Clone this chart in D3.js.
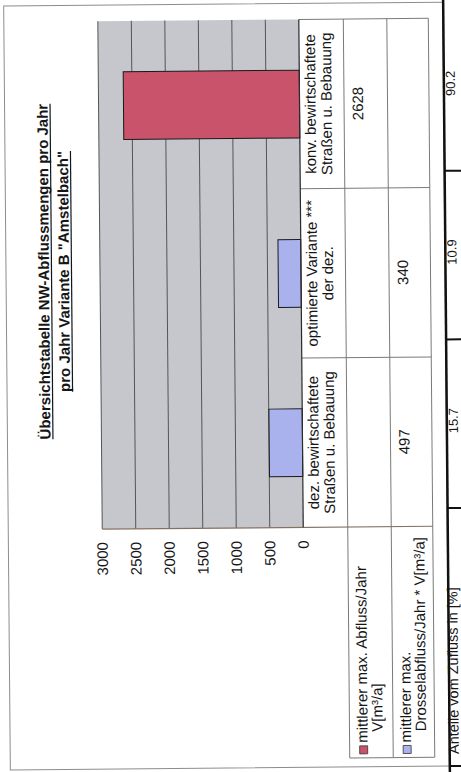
<!DOCTYPE html>
<html>
<head>
<meta charset="utf-8">
<script src="https://cdn.jsdelivr.net/npm/d3@7"></script>
<style>
  html, body { margin: 0; padding: 0; background: #ffffff; }
  svg { display: block; }
  text { font-family: "Liberation Sans", Arial, sans-serif; fill: #161616; }
</style>
</head>
<body>
<script>
// ---- data ----
const categories = ["dez", "opt", "konv"];
const categoryLines = [
  ["dez. bewirtschaftete", "Straßen u. Bebauung"],
  ["optimierte Variante ***", "der dez."],
  ["konv. bewirtschaftete", "Straßen u. Bebauung"]
];
const abflussJahr = [null, null, 2628];     // mittlerer max. Abfluss/Jahr V[m³/a]
const drosselJahr = [497, 340, null];       // mittlerer max. Drosselabfluss/Jahr * V[m³/a]
const valueTicks = [0, 500, 1000, 1500, 2000, 2500, 3000];
const seriesNames = [
  ["mittlerer max. Abfluss/Jahr", "V[m³/a]"],
  ["mittlerer max.", "Drosselabfluss/Jahr * V[m³/a]"]
];
const anteile = ["15.7", "10.9", "90.2"];
const anteileLabel = "Anteile vom Zufluss in [%]";
const titleLines = ["Übersichtstabelle NW-Abflussmengen pro Jahr", "pro Jahr Variante B \"Amstelbach\""];

// ---- layout (drawn in page orientation, then turned onto the sheet) ----
const W = 461, H = 772;
const colors = { abfluss: "#c9536b", drossel: "#aab2ee", plot: "#c6c7cd", grid: "#555555", table: "#7a7a7a" };

const svg = d3.select("body").append("svg").attr("width", W).attr("height", H);
const sheet = svg.append("g").attr("transform", "rotate(-0.5,230,386)");
const g = sheet.append("g").attr("transform", `translate(0,${H}) rotate(-90)`);

const plot = { left: 244, right: 752, top: 101, bottom: 302 };
const rows = [302, 346.5, 390, 431.5];
const legendLeft = 13;

const x = d3.scaleBand().domain(categories).range([plot.left, plot.right]).paddingInner(0).paddingOuter(0);
const y = d3.scaleLinear().domain([0, 3000]).range([plot.bottom, plot.top]);

// outer chart frame
g.append("rect").attr("x", 4).attr("y", 7).attr("width", 764).attr("height", 439)
  .attr("fill", "none").attr("stroke", "#8d8d8d").attr("stroke-width", 1);

// plot background
g.append("rect").attr("x", plot.left).attr("y", plot.top)
  .attr("width", plot.right - plot.left).attr("height", plot.bottom - plot.top)
  .attr("fill", colors.plot);

// gridlines
g.append("g").selectAll("line").data(valueTicks.filter(d => d > 0)).join("line")
  .attr("x1", plot.left).attr("x2", plot.right)
  .attr("y1", d => y(d)).attr("y2", d => y(d))
  .attr("stroke", colors.grid).attr("stroke-width", 1);

// bars
const barW = x.bandwidth() * 0.4;
function drawBars(values, fill) {
  g.append("g").selectAll("rect")
    .data(categories.map((c, i) => ({ c, v: values[i] })).filter(d => d.v != null))
    .join("rect")
    .attr("x", d => x(d.c) + (x.bandwidth() - barW) / 2)
    .attr("width", barW)
    .attr("y", d => y(d.v))
    .attr("height", d => y(0) - y(d.v))
    .attr("fill", fill).attr("stroke", "#1a1a1a").attr("stroke-width", 1);
}
drawBars(abflussJahr, colors.abfluss);
drawBars(drosselJahr, colors.drossel);

// value axis labels
const axis = d3.axisLeft(y).tickValues(valueTicks).tickSize(0).tickPadding(13).tickFormat(d3.format("d"));
const axG = g.append("g").attr("transform", `translate(${plot.left},0)`).call(axis);
axG.select(".domain").remove();
axG.selectAll("text").attr("font-size", 15).attr("fill", "#161616")
  .attr("font-family", "'Liberation Sans', Arial, sans-serif");

// data table grid
const tl = g.append("g").attr("stroke", colors.table).attr("stroke-width", 1);
[rows[1], rows[2], rows[3]].forEach(v =>
  tl.append("line").attr("x1", legendLeft).attr("x2", plot.right).attr("y1", v).attr("y2", v));
tl.append("line").attr("x1", legendLeft).attr("x2", legendLeft).attr("y1", rows[1]).attr("y2", rows[3]);
categories.forEach(c => {
  tl.append("line").attr("x1", x(c) + x.bandwidth()).attr("x2", x(c) + x.bandwidth())
    .attr("y1", rows[0]).attr("y2", rows[3]);
});
// value axis line continuing through the table
g.append("line").attr("x1", plot.left).attr("x2", plot.left).attr("y1", plot.top).attr("y2", rows[3])
  .attr("stroke", "#86705f").attr("stroke-width", 1.2);
// category axis line
g.append("line").attr("x1", plot.left).attr("x2", plot.right).attr("y1", plot.bottom).attr("y2", plot.bottom)
  .attr("stroke", "#2a2a2a").attr("stroke-width", 1.2);

// category labels
categories.forEach((c, i) => {
  const t = g.append("text").attr("text-anchor", "middle").attr("font-size", 15);
  categoryLines[i].forEach((line, k) => {
    t.append("tspan").attr("x", x(c) + x.bandwidth() / 2).attr("y", 318 + k * 16).text(line);
  });
});

// table values
function drawValues(values, rowTop) {
  g.append("g").selectAll("text")
    .data(categories.map((c, i) => ({ c, v: values[i] })).filter(d => d.v != null))
    .join("text")
    .attr("x", d => x(d.c) + x.bandwidth() / 2)
    .attr("y", rowTop + 19)
    .attr("text-anchor", "middle").attr("font-size", 15)
    .text(d => d.v);
}
drawValues(abflussJahr, rows[1]);
drawValues(drosselJahr, rows[2]);

// legend keys and names in the table
[colors.abfluss, colors.drossel].forEach((col, i) => {
  const top = rows[1 + i];
  g.append("rect").attr("x", 17).attr("y", top + 10).attr("width", 8).attr("height", 8)
    .attr("fill", col).attr("stroke", "#333").attr("stroke-width", 0.8);
  g.append("text").attr("x", 28).attr("y", top + 18).attr("font-size", 15).text(seriesNames[i][0]);
  g.append("text").attr("x", 39).attr("y", top + 33).attr("font-size", 15).text(seriesNames[i][1]);
});

// title
titleLines.forEach((line, k) => {
  const t = g.append("text").attr("x", 502).attr("y", 50 + k * 20)
    .attr("text-anchor", "middle").attr("font-size", 15).attr("font-weight", "bold").text(line);
  const len = t.node().getComputedTextLength();
  g.append("line").attr("x1", 502 - len / 2).attr("x2", 502 + len / 2)
    .attr("y1", 52.5 + k * 20).attr("y2", 52.5 + k * 20)
    .attr("stroke", "#161616").attr("stroke-width", 1.2);
});

// page table alongside the chart: shares of inflow
const px = d3.scaleBand().domain(categories).range([262, 768]);
const pg = g.append("g");
pg.append("line").attr("x1", -20).attr("x2", H + 20).attr("y1", 446.5).attr("y2", 446.5)
  .attr("stroke", "#111").attr("stroke-width", 2.5);
[4, 262, px("opt"), px("konv")].forEach(u =>
  pg.append("line").attr("x1", u).attr("x2", u).attr("y1", 446.5).attr("y2", 480)
    .attr("stroke", "#111").attr("stroke-width", 2));
pg.selectAll("text.val").data(categories).join("text").attr("class", "val")
  .attr("x", c => px(c) + px.bandwidth() / 2 + 3).attr("y", 457.5)
  .attr("text-anchor", "middle").attr("font-size", 13)
  .text((c, i) => anteile[i]);
pg.append("text").attr("x", 16).attr("y", 455.5).attr("font-size", 14.5).text(anteileLabel);
</script>
</body>
</html>
